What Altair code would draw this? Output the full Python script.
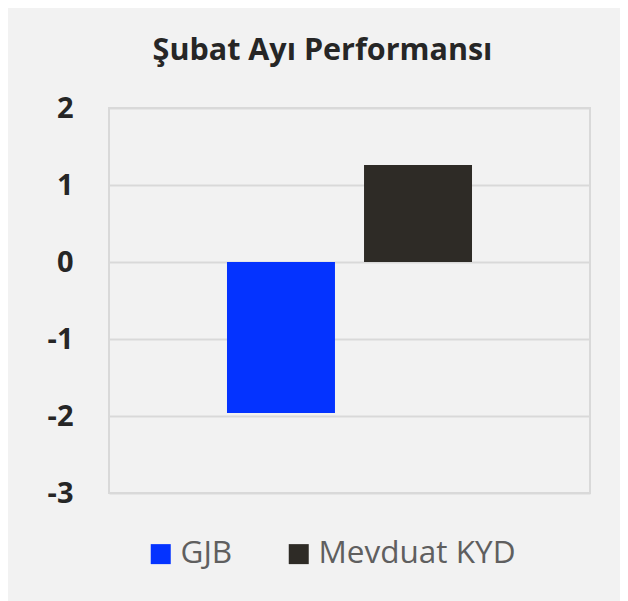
import altair as alt
import pandas as pd

series = ["GJB", "Mevduat KYD"]
values = [-1.96, 1.26]
colors = ["#0433ff", "#2e2b26"]
y_ticks = [-3, -2, -1, 0, 1, 2]
title_text = "Şubat Ayı Performansı"

df = pd.DataFrame({"series": series, "value": values})

chart = alt.Chart(df).mark_bar().encode(
    x=alt.X("series:N", sort=series, axis=None,
            scale=alt.Scale(paddingInner=0.212, paddingOuter=0.861)),
    y=alt.Y("value:Q", title=None,
            scale=alt.Scale(domain=[-3, 2], nice=False, zero=False),
            axis=alt.Axis(values=y_ticks, labelExpr="toString(datum.value)",
                          labelFont="Open Sans",
                          labelFontSize=29, labelFontWeight="bold",
                          labelColor="#262626", labelPadding=36,
                          ticks=False, domain=False, gridColor="#d9d9d9",
                          gridWidth=2)),
    color=alt.Color("series:N", sort=series, title=None,
                    scale=alt.Scale(domain=series, range=colors),
                    legend=alt.Legend(orient="none", direction="horizontal",
                                      legendX=36, legendY=430,
                                      symbolType="square", symbolSize=400,
                                      symbolStrokeWidth=0, labelFont="Open Sans",
                                      labelFontSize=31.5, labelColor="#5f5f5f",
                                      labelOffset=4, columnPadding=50,
                                      labelLimit=400,
                                      padding=0, symbolOpacity=1)),
).properties(
    width=481, height=385,
    autosize="none",
    padding={"left": 101, "top": 100, "right": 30, "bottom": 108},
    background="#f2f2f2",
    title=alt.Title(title_text, font="Open Sans", fontSize=30.5, fontWeight="bold",
                    color="#262626", anchor="middle", frame="group", dx=-27,
                    baseline="alphabetic", offset=4),
).configure_view(stroke="#d9d9d9", strokeWidth=2)

chart.save("out.html", embed_options={"renderer": "svg", "actions": False})
